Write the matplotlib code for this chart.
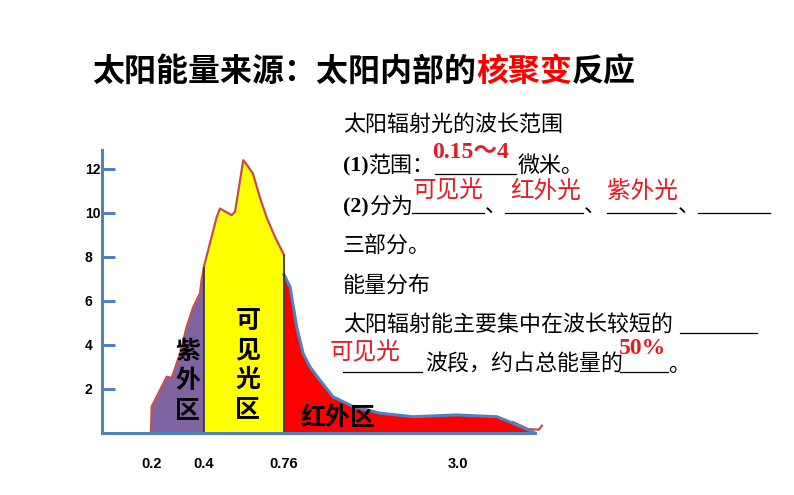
import numpy as np
import matplotlib
matplotlib.use('Agg')
import matplotlib.pyplot as plt
from matplotlib.lines import Line2D

plt.rcParams['font.family'] = ['Noto Sans CJK SC', 'DejaVu Sans']

# 太阳辐射能量随波长的分布（波长 µm，相对能量）
uv_w = [0.196, 0.199, 0.257, 0.276, 0.308, 0.333, 0.358, 0.385, 0.391, 0.40]
uv_e = [0.0, 1.2, 2.56, 2.5, 3.6, 4.8, 5.7, 6.35, 6.95, 7.56]
vis_w = [0.40, 0.457, 0.472, 0.525, 0.54, 0.577, 0.592, 0.62, 0.652, 0.682, 0.72, 0.75, 0.76]
vis_e = [7.56, 9.8, 10.2, 9.9, 10.06, 12.4, 12.2, 11.8, 10.7, 9.8, 8.9, 8.3, 8.1]
ir_w = [0.76, 0.837, 0.923, 1.008, 1.095, 1.223, 1.39, 1.65, 2.0, 2.42, 2.98, 3.5, 3.71, 3.99]
ir_e = [7.2, 6.65, 4.83, 3.6, 3.0, 2.4, 1.65, 1.2, 0.9, 0.74, 0.82, 0.74, 0.44, 0.0]
tail_w = [3.71, 3.9, 4.04, 4.08]
tail_e = [0.5, 0.18, 0.15, 0.33]

yticks = [2, 4, 6, 8, 10, 12]
xticks = [0.2, 0.4, 0.76, 3.0]
xtick_labels = ['0.2', '0.4', '0.76', '3.0']

# 手绘图的横轴不是线性的，用分段刻度还原
knot_w = [0.0, 0.2, 0.4, 0.76, 3.0, 6.0]
knot_p = [100, 152, 204, 284, 458, 691]


def fwd(w):
    return np.interp(w, knot_w, knot_p)


def inv(p):
    return np.interp(p, knot_p, knot_w)


W, H = 794, 495
fig = plt.figure(figsize=(W / 100, H / 100), dpi=100)
ax = fig.add_axes([102 / W, 62 / H, 443 / W, 283 / H])
ax.set_xscale('function', functions=(fwd, inv))
ax.set_xlim(0.008, 4.12)
ax.set_ylim(0, 12.86)

blue = '#4F81BD'
ax.fill_between(uv_w, uv_e, color='#8064A2', lw=0)
ax.fill_between(vis_w, vis_e, color='#FFFF00', lw=0)
ax.fill_between(ir_w, ir_e, color='#FF0000', lw=0)
ax.plot(uv_w + vis_w, uv_e + vis_e, color='#C0504D', lw=1.6)
ax.plot(tail_w, tail_e, color='#C0504D', lw=1.6)
ax.plot(ir_w, ir_e, color=blue, lw=2.2)
ax.vlines([uv_w[-1]], 0, uv_e[-1], color='#333333', lw=1.2)
ax.vlines([vis_w[-1]], 0, vis_e[-1], color='#222222', lw=1.2)

for s in ['top', 'right']:
    ax.spines[s].set_visible(False)
for s in ['left', 'bottom']:
    ax.spines[s].set_color(blue)
    ax.spines[s].set_linewidth(2.2)
ax.spines['bottom'].set_bounds(0.008, 3.99)

ax.set_yticks(yticks)
ax.set_yticklabels([str(v) for v in yticks], fontsize=10, fontweight='bold',
                   family=['Liberation Sans'], ha='left')
ax.tick_params(axis='y', direction='in', length=9.5, width=2.2, color=blue, pad=12.5)
ax.set_xticks(xticks)
ax.set_xticklabels(xtick_labels, fontsize=10.5, fontweight='bold', family=['Liberation Sans'])
ax.tick_params(axis='x', length=0, pad=17)

lab = dict(fontsize=18, fontweight='bold', color='black', ha='center', va='center',
           linespacing=1.28)
ax.text(0.338, 2.36, '紫\n外\n区', **lab)
ax.text(0.598, 3.09, '可\n见\n光\n区', **lab)
ax.text(1.455, 0.68, '红外区', **lab)


def put(x, y, s, **kw):
    kw.setdefault('fontsize', 15.8)
    kw.setdefault('va', 'center')
    return fig.text(x / W, 1 - y / H, s, **kw)


def uline(x0, x1, y):
    fig.add_artist(Line2D([x0 / W, x1 / W], [1 - y / H, 1 - y / H], color='black', lw=0.9))


# 标题
renderer = fig.canvas.get_renderer()
x = 92
for part, col in [('太阳能量来源：太阳内部的', 'black'), ('核聚变', '#FF0000'), ('反应', 'black')]:
    t = put(x, 72, part, fontsize=23, fontweight='bold', color=col)
    bb = t.get_window_extent(renderer)
    x += bb.width

red = '#E31B23'
serif = ['Liberation Serif', 'Noto Sans CJK SC']

put(343, 125, '太阳辐射光的波长范围')
t = put(343, 166, '(1)', family=serif, fontweight='bold')
put(343 + t.get_window_extent(renderer).width, 166, '范围：')
uline(435, 516, 174)
put(518, 166, '微米。')
put(432, 153, '0.15～4', family=serif, fontweight='bold', color=red, fontsize=17)

t = put(343, 207, '(2)', family=serif, fontweight='bold')
put(343 + t.get_window_extent(renderer).width, 207, '分为')
for a, b in [(412, 484), (505, 583), (607, 676), (698, 770)]:
    uline(a, b, 213)
for a in [485, 584, 678]:
    put(a, 207, '、')
put(413, 191, '可见光', color=red, fontsize=17)
put(510, 191, '红外光', color=red, fontsize=17)
put(607, 191, '紫外光', color=red, fontsize=17)

put(343, 246, '三部分。')
put(343, 286, '能量分布')
put(343, 325, '太阳辐射能主要集中在波长较短的')
uline(680, 757, 333)
uline(343, 422, 372)
put(425, 365, '波段，约占总能量的')
uline(620, 668, 372)
put(668, 365, '。')
put(330, 353, '可见光', color=red, fontsize=17)
put(619, 348, '50%', family=serif, fontweight='bold', color=red, fontsize=17)

fig.savefig('out.png', dpi=100)
